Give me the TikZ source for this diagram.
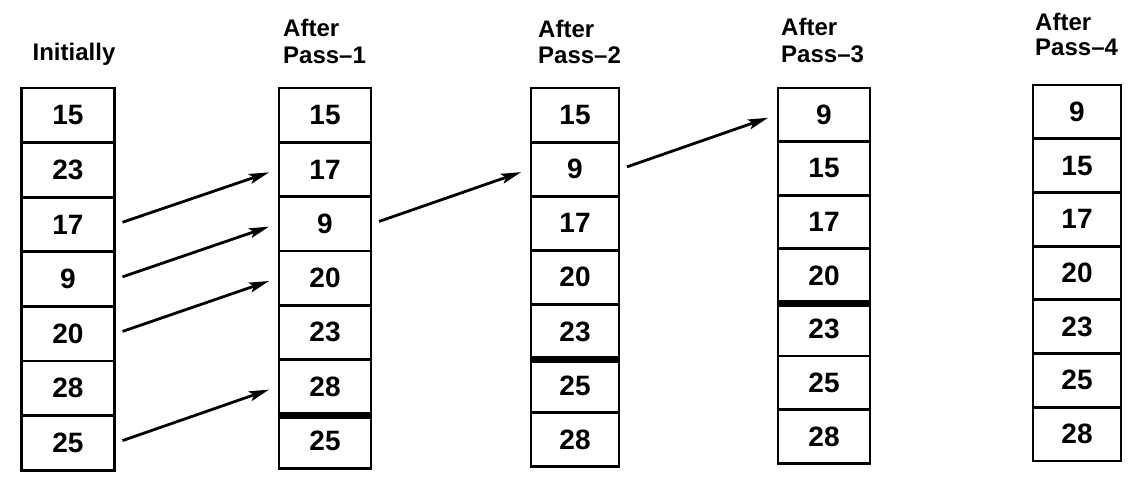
\documentclass[tikz,border=0pt]{standalone}
\usepackage{fontspec}
\setmainfont{Liberation Sans}
\usetikzlibrary{arrows.meta}
\begin{document}
\begin{tikzpicture}[x=1pt,y=-1pt,
  cell/.style={draw, line width=2.8pt, inner sep=0pt, minimum height=#1,
    font=\fontsize{28}{30}\selectfont\bfseries},
  ttl/.style={anchor=base west, inner sep=0pt, font=\fontsize{24}{26}\selectfont\bfseries},
  sep/.style={line width=7pt},
  arr/.style={line width=2.8pt, -{Stealth[length=20pt,width=10pt,inset=4pt]},
    shorten <=7pt, shorten >=9pt}]
\useasboundingbox (0,0) rectangle (1132,488);
% columns: index/center x/width/top y/row height/values
\foreach \c/\cx/\w/\ty/\h/\vals in {
  1/68/93/88/54.6/{15,23,17,9,20,28,25},
  2/325/92/88/54.3/{15,17,9,20,23,28,25},
  3/575/88/88/54.1/{15,9,17,20,23,25,28},
  4/824/92/88/53.6/{9,15,17,20,23,25,28},
  5/1077/88/85/53.7/{9,15,17,20,23,25,28}}{
  \foreach \v [count=\r] in \vals {
    \node[cell=\h pt, minimum width=\w pt] (c\c r\r) at (\cx, {\ty+(\r-0.5)*\h}) {\v};
  }
}
% titles
\node[ttl, anchor=base] (t1) at (74,60) {Initially};
\node[ttl] (t2a) at (283,36) {After};
\node[ttl] (t2b) at (283,63) {Pass–1};
\node[ttl] (t3a) at (538,37) {After};
\node[ttl] (t3b) at (538,63) {Pass–2};
\node[ttl] (t4a) at (781,35) {After};
\node[ttl] (t4b) at (781,62) {Pass–3};
\node[ttl] (t5a) at (1035,30) {After};
\node[ttl] (t5b) at (1035,55) {Pass–4};
% thick separators
\draw[sep] (c2r6.south west) -- (c2r6.south east);
\draw[sep] (c3r5.south west) -- (c3r5.south east);
\draw[sep] (c4r4.south west) -- (c4r4.south east);
% arrows
\draw[arr] (c1r3.east) -- (c2r2.west);
\draw[arr] (c1r4.east) -- (c2r3.west);
\draw[arr] (c1r5.east) -- (c2r4.west);
\draw[arr] (c1r7.east) -- (c2r6.west);
\draw[arr] (c2r3.east) -- (c3r2.west);
\draw[arr] (c3r2.east) -- (c4r1.west);
\end{tikzpicture}
\end{document}
